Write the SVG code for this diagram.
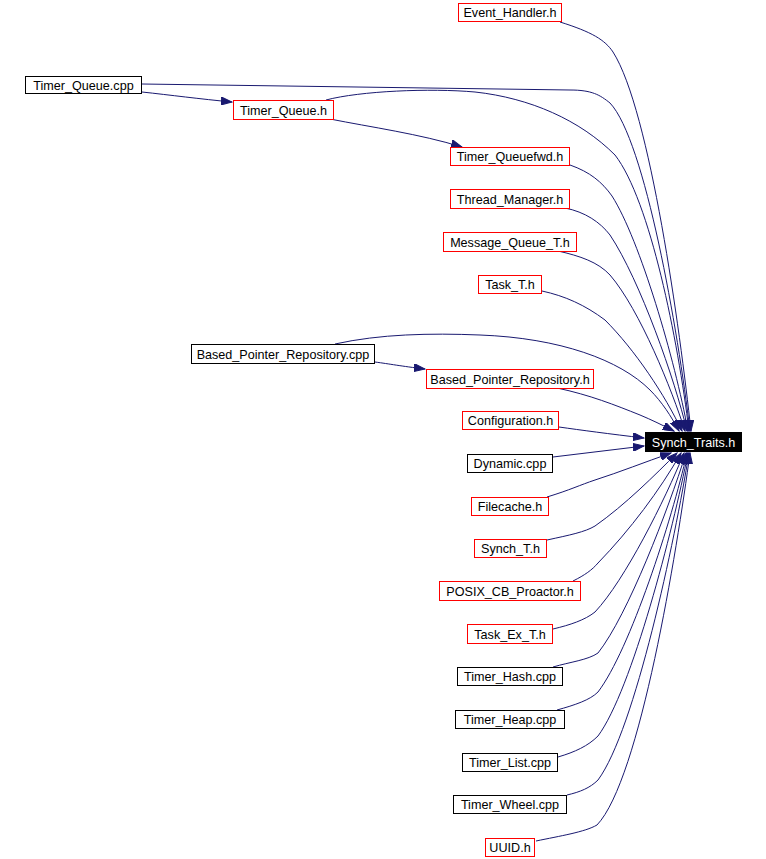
<svg xmlns="http://www.w3.org/2000/svg" width="766" height="859" viewBox="0 0 766 859">
<style>
.n rect{fill:#fff;stroke:#000;stroke-width:1}
.n.r rect{stroke:#ff0000}
.n text{font-family:"Liberation Sans",Arial,sans-serif;font-size:12.6px;fill:#000;text-anchor:middle}
.n.root rect{fill:#000;stroke:#000}
.n.root text{fill:#fff}
.e path{fill:none;stroke:#191970;stroke-width:1;marker-end:url(#ah)}
</style>
<defs>
<marker id="ah" markerUnits="userSpaceOnUse" markerWidth="12" markerHeight="8" refX="11" refY="4" orient="auto">
<path d="M0,0 L11,4 L0,8 z" fill="#191970" stroke="#191970" stroke-width="1"/>
</marker>
</defs>
<rect width="766" height="859" fill="#fff"/>
<g id="edges" class="e">
<path d="M560,22 C592,32 605,40 613,52 C650,110 680,330 691,431"/>
<path d="M142,84 L570,90 C592,90 600,95 610,103 C645,140 678,330 690,431"/>
<path d="M142,92 C170,95 200,99 232,102"/>
<path d="M326,100 C360,91 430,88 475,92 C530,98 580,120 615,155 C650,200 678,340 689,431"/>
<path d="M330,119 C370,127 420,134 462,147"/>
<path d="M570,165 C590,172 602,182 612,196 C640,240 675,360 688,431"/>
<path d="M565,208 C585,212 600,222 610,235 C640,280 675,380 687,431"/>
<path d="M558,251 C580,256 598,262 610,275 C640,310 672,390 685,431"/>
<path d="M542,291 C565,296 585,305 605,320 C635,350 665,395 682,431"/>
<path d="M335,344 C380,334 430,333 480,335 C560,338 620,360 650,390 C662,402 671,416 679,431"/>
<path d="M375,362 C390,364 400,366 425,369"/>
<path d="M557,388 C590,395 615,405 640,415 C652,420 662,425 674,431"/>
<path d="M559,427 C580,430 610,434 644,438"/>
<path d="M553,457 L644,446"/>
<path d="M547,497 C570,490 580,485 595,480 C620,472 645,462 671,453"/>
<path d="M547,540 C570,535 585,532 595,526 C625,505 655,475 677,453"/>
<path d="M573,581 C585,575 592,570 598,563 C630,530 660,490 681,453"/>
<path d="M553,629 C570,625 585,620 595,612 C625,580 665,500 684,453"/>
<path d="M553,667 C570,662 588,660 598,653 C628,615 668,510 686,453"/>
<path d="M557,710 C575,705 590,700 598,692 C630,650 672,520 687,453"/>
<path d="M558,757 C575,752 588,746 598,736 C632,690 673,530 688,453"/>
<path d="M567,795 C580,792 590,788 598,780 C635,730 675,540 689,453"/>
<path d="M536,841 C560,836 585,832 597,825 C640,780 677,550 690,453"/>
</g>
<g id="n_event_handler" class="n r"><rect x="458.5" y="3.5" width="103" height="18"/><text x="510" y="17">Event_Handler.h</text></g>
<g id="n_timer_queue_cpp" class="n"><rect x="25.5" y="76.5" width="116" height="17"/><text x="83.5" y="89.5">Timer_Queue.cpp</text></g>
<g id="n_timer_queue_h" class="n r"><rect x="233.5" y="100.5" width="100" height="19"/><text x="283.5" y="114.5">Timer_Queue.h</text></g>
<g id="n_timer_queuefwd" class="n r"><rect x="450.5" y="147.5" width="119" height="18"/><text x="510" y="161">Timer_Queuefwd.h</text></g>
<g id="n_thread_manager" class="n r"><rect x="450.5" y="189.5" width="119" height="19"/><text x="510" y="203.5">Thread_Manager.h</text></g>
<g id="n_message_queue_t" class="n r"><rect x="443.5" y="232.5" width="133" height="19"/><text x="510" y="246.5">Message_Queue_T.h</text></g>
<g id="n_task_t" class="n r"><rect x="478.5" y="275.5" width="63" height="18"/><text x="510" y="289">Task_T.h</text></g>
<g id="n_bpr_cpp" class="n"><rect x="191.5" y="344.5" width="183" height="19"/><text x="283" y="358.5">Based_Pointer_Repository.cpp</text></g>
<g id="n_bpr_h" class="n r"><rect x="426.5" y="369.5" width="167" height="19"/><text x="510" y="383.5">Based_Pointer_Repository.h</text></g>
<g id="n_configuration" class="n r"><rect x="462.5" y="411.5" width="96" height="18"/><text x="510.5" y="425">Configuration.h</text></g>
<g id="n_synch_traits" class="n root"><rect x="645.5" y="432.5" width="96" height="19"/><text x="693.5" y="446.5">Synch_Traits.h</text></g>
<g id="n_dynamic" class="n"><rect x="467.5" y="454.5" width="85" height="18"/><text x="510" y="468">Dynamic.cpp</text></g>
<g id="n_filecache" class="n r"><rect x="471.5" y="497.5" width="77" height="18"/><text x="510" y="511">Filecache.h</text></g>
<g id="n_synch_t" class="n r"><rect x="474.5" y="539.5" width="72" height="18"/><text x="510.5" y="553">Synch_T.h</text></g>
<g id="n_posix_cb_proactor" class="n r"><rect x="439.5" y="581.5" width="141" height="19"/><text x="510" y="595.5">POSIX_CB_Proactor.h</text></g>
<g id="n_task_ex_t" class="n r"><rect x="467.5" y="624.5" width="85" height="19"/><text x="510" y="638.5">Task_Ex_T.h</text></g>
<g id="n_timer_hash" class="n"><rect x="457.5" y="667.5" width="105" height="18"/><text x="510" y="681">Timer_Hash.cpp</text></g>
<g id="n_timer_heap" class="n"><rect x="455.5" y="710.5" width="109" height="18"/><text x="510" y="724">Timer_Heap.cpp</text></g>
<g id="n_timer_list" class="n"><rect x="462.5" y="753.5" width="95" height="18"/><text x="510" y="767">Timer_List.cpp</text></g>
<g id="n_timer_wheel" class="n"><rect x="453.5" y="795.5" width="113" height="18"/><text x="510" y="809">Timer_Wheel.cpp</text></g>
<g id="n_uuid" class="n r"><rect x="485.5" y="838.5" width="49" height="18"/><text x="510" y="852">UUID.h</text></g>
</svg>
